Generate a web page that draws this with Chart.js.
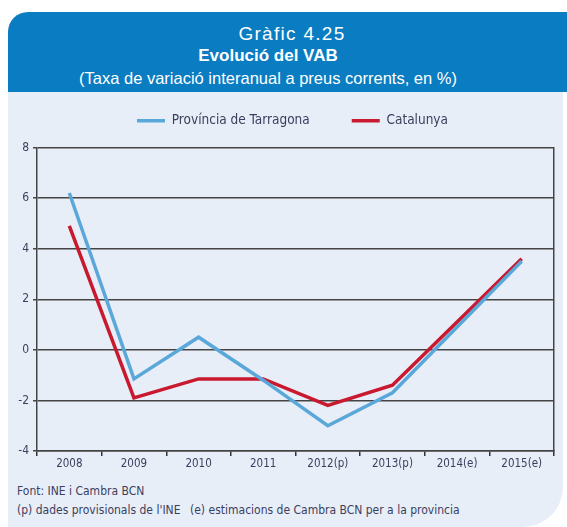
<!DOCTYPE html>
<html>
<head>
<meta charset="utf-8">
<script src="https://cdn.jsdelivr.net/npm/chart.js@4/dist/chart.umd.min.js"></script>
<style>
  html, body { margin: 0; padding: 0; background: #ffffff; width: 567px; height: 527px; overflow: hidden; position: relative; }
  .narrow { font-family: "Liberation Sans Narrow", "Arial Narrow", "DejaVu Sans Condensed", sans-serif; }
  #header { position: absolute; left: 8px; top: 12px; width: 559px; height: 80px; background: #0a7cc1; border-top-left-radius: 20px; color: #fff; font-family: "Liberation Sans", Arial, sans-serif; text-align: center; }
  #header div { position: absolute; left: 0; width: 520px; white-space: nowrap; }
  #panel { position: absolute; left: 8px; top: 92px; width: 555px; height: 435px; background: #e8eef8; border-bottom-right-radius: 40px; }
  #wrap { position: absolute; left: 8px; top: 69px; width: 569px; height: 406px; }
  .note { position: absolute; font-size: 12px; color: #3b3f5e; white-space: pre; }
</style>
</head>
<body>
<div id="header">
  <div style="top:11px;left:24px;font-size:19px;letter-spacing:1.3px;">Gràfic 4.25</div>
  <div style="top:34px;font-size:17px;font-weight:bold;">Evolució del VAB</div>
  <div style="top:57px;font-size:16.5px;">(Taxa de variació interanual a preus corrents, en %)</div>
</div>
<div id="panel"></div>
<div id="wrap"><canvas id="c" width="569" height="406"></canvas></div>
<div class="note narrow" style="left:17px;top:484px;">Font: INE i Cambra BCN</div>
<div class="note narrow" style="left:17px;top:503px;">(p) dades provisionals de l'INE</div>
<div class="note narrow" style="left:190px;top:503px;">(e) estimacions de Cambra BCN per a la provincia</div>
<script>
const categories = ["2008", "2009", "2010", "2011", "2012(p)", "2013(p)", "2014(e)", "2015(e)"];
const tarragona = [6.2, -1.15, 0.5, -1.2, -3.0, -1.7, 0.9, 3.5];
const catalunya = [4.9, -1.9, -1.15, -1.15, -2.2, -1.4, 1.1, 3.6];
const yTicks = [-4, -2, 0, 2, 4, 6, 8];
const seriesNames = ["Província de Tarragona", "Catalunya"];

const NARROW = '"Liberation Sans Narrow", "Arial Narrow", "DejaVu Sans Condensed", sans-serif';
const gridColor = '#444444';
const textColor = '#3b3f5e';

new Chart(document.getElementById('c'), {
  type: 'line',
  data: {
    labels: categories,
    datasets: [
      { label: seriesNames[0], data: tarragona, borderColor: '#5aa7da', backgroundColor: '#5aa7da', borderWidth: 3.5, pointRadius: 0, tension: 0 },
      { label: seriesNames[1], data: catalunya, borderColor: '#c8192f', backgroundColor: '#c8192f', borderWidth: 3.5, pointRadius: 0, tension: 0 }
    ]
  },
  options: {
    responsive: false,
    animation: false,
    layout: { padding: { left: 0, right: 0, top: 3, bottom: 0 } },
    plugins: {
      tooltip: { enabled: false },
      legend: {
        display: true,
        position: 'top',
        labels: {
          usePointStyle: true,
          pointStyle: 'line',
          pointStyleWidth: 28,
          padding: 42,
          color: textColor,
          font: { family: NARROW, size: 13.5 }
        }
      }
    },
    scales: {
      x: {
        type: 'category',
        offset: true,
        afterFit: (s) => { s.height = 24; },
        grid: { display: true, drawOnChartArea: false, offset: true, color: '#333', lineWidth: 1.5, tickLength: 5 },
        border: { display: true, color: gridColor, width: 1.5 },
        ticks: { color: textColor, padding: 1, maxRotation: 0, autoSkip: false, font: { family: NARROW, size: 11.5 } }
      },
      xTop: {
        type: 'category',
        position: 'top',
        afterFit: (s) => { s.height = 10; },
        grid: { display: false },
        border: { display: false },
        ticks: { display: false }
      },
      y: {
        min: -4, max: 8,
        afterFit: (s) => { s.width = 29; },
        afterBuildTicks: (s) => { s.ticks = yTicks.map(v => ({ value: v })); },
        grid: { color: gridColor, lineWidth: 1.5, tickLength: 4 },
        border: { display: true, color: gridColor, width: 1.5 },
        ticks: { color: textColor, padding: 4, font: { family: NARROW, size: 12 } }
      },
      y2: {
        position: 'right',
        min: -4, max: 8,
        afterFit: (s) => { s.width = 23; },
        grid: { display: false },
        border: { display: true, color: gridColor, width: 1.5 },
        ticks: { display: false }
      }
    }
  }
});
</script>
</body>
</html>
